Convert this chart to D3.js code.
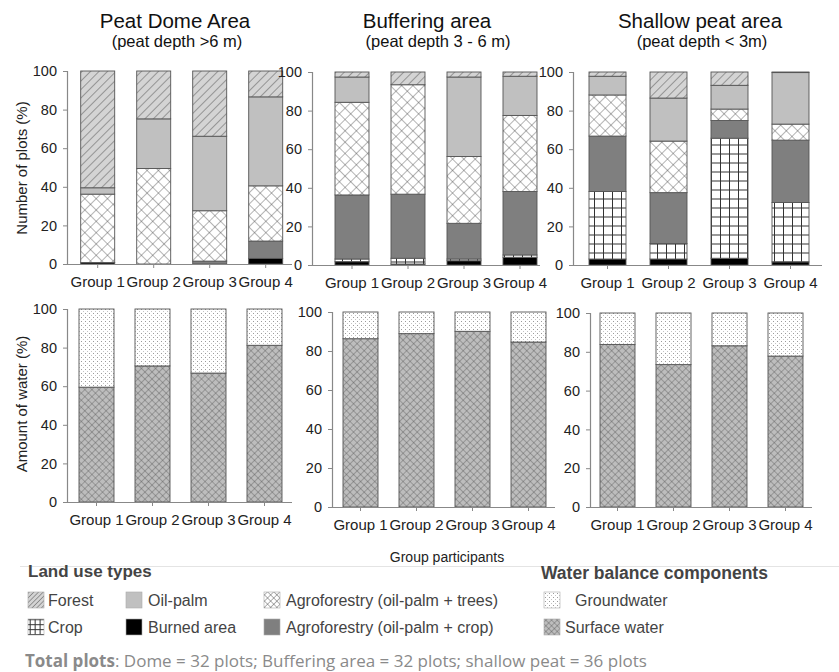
<!DOCTYPE html>
<html><head><meta charset="utf-8">
<script src="https://cdn.jsdelivr.net/npm/d3@7"></script>
<style>
html,body{margin:0;padding:0;background:#fff;}
svg{font-family:"Liberation Sans",Arial,sans-serif;}
</style></head>
<body>
<svg id="chart" width="839" height="672"></svg>
<script>
// ---------------- DATA ----------------
const groups = ["Group 1", "Group 2", "Group 3", "Group 4"];
const yTicks = [0, 20, 40, 60, 80, 100];
const areaTitles = ["Peat Dome Area", "Buffering area", "Shallow peat area"];
const areaSubtitles = ["(peat depth >6 m)", "(peat depth 3 - 6 m)", "(peat depth < 3m)"];

// land use (% of plots), stacked bottom -> top
const landUseKeys = ["burned", "crop", "agroCrop", "agroTrees", "oilPalm", "forest"];
const domeBurned    = [0.8, 0.0, 0.0, 2.9];
const domeCrop      = [0.0, 0.0, 0.0, 0.0];
const domeAgroCrop  = [0.0, 0.0, 1.5, 9.0];
const domeAgroTrees = [35.4, 49.5, 26.1, 28.6];
const domeOilPalm   = [3.3, 25.7, 38.6, 46.1];
const domeForest    = [60.5, 24.8, 33.8, 13.4];

const bufBurned    = [1.7, 0.5, 2.2, 4.0];
const bufCrop      = [1.4, 3.0, 0.9, 1.2];
const bufAgroCrop  = [33.2, 33.2, 18.5, 32.9];
const bufAgroTrees = [48.0, 56.7, 34.6, 39.4];
const bufOilPalm   = [13.1, 0.0, 41.2, 20.3];
const bufForest    = [2.6, 6.6, 2.6, 2.2];

const shalBurned    = [3.1, 3.1, 3.5, 1.6];
const shalCrop      = [35.0, 8.0, 62.2, 30.8];
const shalAgroCrop  = [28.7, 26.4, 9.2, 32.3];
const shalAgroTrees = [21.3, 26.7, 5.9, 8.3];
const shalOilPalm   = [9.7, 22.3, 12.3, 26.7];
const shalForest    = [2.2, 13.5, 6.9, 0.3];

// water balance (% of water)
const waterKeys = ["surface", "ground"];
const domeSurface = [59.5, 70.5, 66.8, 81.2];
const domeGround  = [40.5, 29.5, 33.2, 18.8];
const bufSurface  = [86.3, 88.9, 90.1, 84.6];
const bufGround   = [13.7, 11.1, 9.9, 15.4];
const shalSurface = [83.8, 73.4, 83.1, 77.8];
const shalGround  = [16.2, 26.6, 16.9, 22.2];

const landLegend = [
  ["forest", "Forest"], ["oilPalm", "Oil-palm"], ["agroTrees", "Agroforestry (oil-palm + trees)"],
  ["crop", "Crop"], ["burned", "Burned area"], ["agroCrop", "Agroforestry (oil-palm + crop)"]
];
const waterLegend = [["ground", "Groundwater"], ["surface", "Surface water"]];

// ---------------- BUILD TABLES ----------------
function table(cols) {
  return groups.map((g, i) => {
    const row = {group: g};
    Object.keys(cols).forEach(k => row[k] = cols[k][i]);
    return row;
  });
}
const landTables = [
  table({burned: domeBurned, crop: domeCrop, agroCrop: domeAgroCrop, agroTrees: domeAgroTrees, oilPalm: domeOilPalm, forest: domeForest}),
  table({burned: bufBurned, crop: bufCrop, agroCrop: bufAgroCrop, agroTrees: bufAgroTrees, oilPalm: bufOilPalm, forest: bufForest}),
  table({burned: shalBurned, crop: shalCrop, agroCrop: shalAgroCrop, agroTrees: shalAgroTrees, oilPalm: shalOilPalm, forest: shalForest})
];
const waterTables = [
  table({surface: domeSurface, ground: domeGround}),
  table({surface: bufSurface, ground: bufGround}),
  table({surface: shalSurface, ground: shalGround})
];

// ---------------- LAYOUT ----------------
const topPanels = [
  {axisX: 67,  top: 71, bottom: 264, bar0: 80.7, step: 56, bw: 34, right: 292},
  {axisX: 312, top: 72, bottom: 265, bar0: 335,  step: 56, bw: 34, right: 540},
  {axisX: 573, top: 72, bottom: 265, bar0: 589,  step: 61, bw: 37, right: 822}
];
const botPanels = [
  {axisX: 67,  top: 309, bottom: 502, bar0: 79,  step: 56, bw: 35, right: 292},
  {axisX: 332, top: 312, bottom: 507, bar0: 343, step: 56, bw: 35, right: 555},
  {axisX: 590, top: 313, bottom: 507, bar0: 600, step: 56, bw: 35, right: 812}
];
const titleX = [175, 427, 700];

const svg = d3.select("#chart");
const defs = svg.append("defs");

// ---------------- PATTERNS ----------------
function pat(id, size, bg, transform) {
  const p = defs.append("pattern").attr("id", id).attr("patternUnits", "userSpaceOnUse")
    .attr("width", size).attr("height", size);
  if (transform) p.attr("patternTransform", transform);
  p.append("rect").attr("width", size).attr("height", size).attr("fill", bg);
  return p;
}
function makePatterns(suffix, sc) {
  // forest: light gray with "/" lines
  pat("p-forest" + suffix, 6 * sc, "#d4d4d4", "rotate(45)")
    .append("line").attr("x1", 0).attr("y1", 0).attr("x2", 0).attr("y2", 6 * sc)
    .attr("stroke", "#555").attr("stroke-width", 1);
  // agroforestry trees: white crosshatch
  {
    const s = 8 * sc;
    const p = pat("p-agroTrees" + suffix, s, "#fff", "rotate(45)");
    p.append("line").attr("x1", 0).attr("y1", 0).attr("x2", 0).attr("y2", s).attr("stroke", "#444").attr("stroke-width", 0.8);
    p.append("line").attr("x1", 0).attr("y1", 0).attr("x2", s).attr("y2", 0).attr("stroke", "#444").attr("stroke-width", 0.8);
  }
  // crop: grid
  {
    const s = 9 * sc;
    const p = pat("p-crop" + suffix, s, "#fff", "translate(0,0.5)");
    p.append("line").attr("x1", 0.5).attr("y1", 0).attr("x2", 0.5).attr("y2", s).attr("stroke", "#333").attr("stroke-width", 1);
    p.append("line").attr("x1", 0).attr("y1", 0.5).attr("x2", s).attr("y2", 0.5).attr("stroke", "#333").attr("stroke-width", 1);
  }
  // groundwater: dots
  {
    const p = pat("p-ground" + suffix, 4, "#fff");
    p.append("rect").attr("x", 1).attr("y", 1).attr("width", 1).attr("height", 1).attr("fill", "#9a9a9a");
    p.append("rect").attr("x", 3).attr("y", 3).attr("width", 1).attr("height", 1).attr("fill", "#c4c4c4");
  }
  // surface water: gray fine crosshatch
  {
    const s = 5 * Math.max(sc, 0.8);
    const p = pat("p-surface" + suffix, s, "#bdbdbd", "rotate(45)");
    p.append("line").attr("x1", 0).attr("y1", 0).attr("x2", 0).attr("y2", s).attr("stroke", "#4a4a4a").attr("stroke-width", 0.7);
    p.append("line").attr("x1", 0).attr("y1", 0).attr("x2", s).attr("y2", 0).attr("stroke", "#4a4a4a").attr("stroke-width", 0.7);
  }
}
makePatterns("", 1);
makePatterns("-leg", 0.55);
function fillFor(k, suffix) {
  const solid = {burned: "#000", agroCrop: "#7f7f7f", oilPalm: "#c0c0c0"};
  return solid[k] || `url(#p-${k}${suffix})`;
}

// ---------------- DRAW PANELS ----------------
function drawPanel(L, data, keys) {
  const g = svg.append("g");
  const p = 1 - L.bw / L.step;
  const start = L.bar0 - (p / 2) * L.step;
  const x = d3.scaleBand().domain(groups).range([start, start + L.step * groups.length])
    .paddingInner(p).paddingOuter(p / 2);
  const y = d3.scaleLinear().domain([0, 100]).range([L.bottom, L.top]);

  const series = d3.stack().keys(keys)(data);
  g.selectAll("g.s").data(series).join("g").attr("class", "s")
    .attr("fill", d => fillFor(d.key, ""))
    .selectAll("rect").data(d => d.filter(v => v[1] - v[0] > 0)).join("rect")
    .attr("x", d => x(d.data.group))
    .attr("width", x.bandwidth())
    .attr("y", d => y(d[1]))
    .attr("height", d => y(d[0]) - y(d[1]))
    .attr("stroke", "#555").attr("stroke-width", 0.9);

  // y axis
  const ya = g.append("g").attr("transform", `translate(${L.axisX},0)`)
    .call(d3.axisLeft(y).tickValues(yTicks).tickSize(4).tickPadding(6));
  ya.select(".domain").attr("stroke", "#888").attr("stroke-width", 1.2);
  ya.selectAll(".tick line").attr("stroke", "#888");
  ya.selectAll(".tick text").style("font-size", "14.5px").attr("fill", "#222")
    .style("font-family", "Liberation Sans, Arial, sans-serif");

  // x axis
  const xa = g.append("g").attr("transform", `translate(0,${L.bottom})`)
    .call(d3.axisBottom(x).tickSize(4).tickSizeOuter(0).tickPadding(8));
  xa.select(".domain").attr("d", `M${L.axisX},0.5H${L.right}`).attr("stroke", "#888").attr("stroke-width", 1.2);
  xa.selectAll(".tick line").attr("stroke", "#888");
  xa.selectAll(".tick text").style("font-size", "15px").attr("fill", "#222")
    .style("font-family", "Liberation Sans, Arial, sans-serif");
}
topPanels.forEach((L, i) => drawPanel(L, landTables[i], landUseKeys));
botPanels.forEach((L, i) => drawPanel(L, waterTables[i], waterKeys));

// titles
areaTitles.forEach((t, i) => {
  svg.append("text").attr("x", titleX[i]).attr("y", 28).attr("text-anchor", "middle")
    .style("font-size", "20.5px").attr("fill", "#111").text(t);
  svg.append("text").attr("x", titleX[i] + (i === 1 ? 11 : 2)).attr("y", 47).attr("text-anchor", "middle")
    .style("font-size", "16.5px").attr("fill", "#111").text(areaSubtitles[i]);
});

// y titles
svg.append("text").attr("transform", "translate(27,168) rotate(-90)").attr("text-anchor", "middle")
  .style("font-size", "15px").attr("fill", "#222").text("Number of plots (%)");
svg.append("text").attr("transform", "translate(27,404) rotate(-90)").attr("text-anchor", "middle")
  .style("font-size", "15px").attr("fill", "#222").text("Amount of water (%)");

// x title
svg.append("text").attr("x", 447).attr("y", 562).attr("text-anchor", "middle")
  .style("font-size", "14px").attr("fill", "#222").text("Group participants");

// ---------------- LEGEND ----------------
svg.append("line").attr("x1", 20).attr("x2", 839).attr("y1", 566.5).attr("y2", 566.5)
  .attr("stroke", "#e4e4e4").attr("stroke-width", 1);
svg.append("text").attr("x", 28).attr("y", 577).style("font-size", "17px").attr("font-weight", "bold")
  .attr("fill", "#444").text("Land use types");
svg.append("text").attr("x", 541).attr("y", 579).style("font-size", "17.5px").attr("font-weight", "bold")
  .attr("fill", "#444").text("Water balance components");

const legCols = [28, 126, 264];
const legRows = [600, 627];
landLegend.forEach(([k, label], i) => {
  const cx = legCols[i % 3], cy = legRows[Math.floor(i / 3)];
  svg.append("rect").attr("x", cx).attr("y", cy - 8).attr("width", 16).attr("height", 16)
    .attr("fill", fillFor(k, "-leg")).attr("stroke", "#aaa").attr("stroke-width", 0.6);
  svg.append("text").attr("x", cx + (i % 3 === 0 ? 20 : 22)).attr("y", cy + 5.5)
    .style("font-size", "16px").attr("fill", "#444").text(label);
});
waterLegend.forEach(([k, label], i) => {
  const cy = legRows[i];
  svg.append("rect").attr("x", 544).attr("y", cy - 8).attr("width", 16).attr("height", 16)
    .attr("fill", fillFor(k, "-leg")).attr("stroke", "#aaa").attr("stroke-width", 0.6);
  svg.append("text").attr("x", 565 + (i === 0 ? 10 : 0)).attr("y", cy + 5.5)
    .style("font-size", "16px").attr("fill", "#444").text(label);
});

const tp = svg.append("text").attr("x", 25).attr("y", 667)
  .style("font-size", "17px").attr("fill", "#8a8a8a").style("font-family", "'Open Sans', 'Noto Sans', sans-serif");
tp.append("tspan").attr("font-weight", "bold").text("Total plots");
tp.append("tspan").text(": Dome = 32 plots; Buffering area = 32 plots; shallow peat = 36 plots");
</script>
</body></html>
